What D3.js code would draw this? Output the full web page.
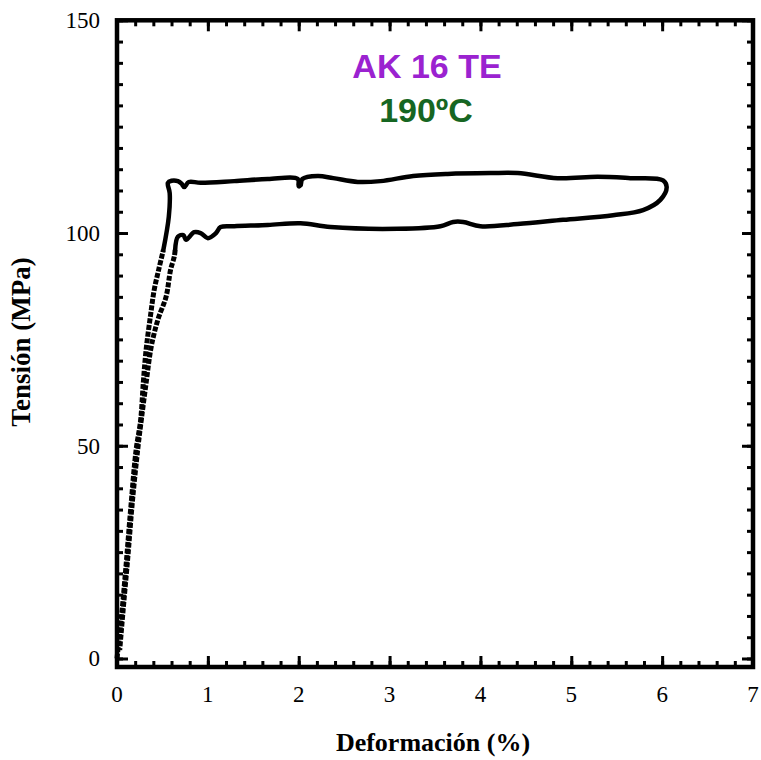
<!DOCTYPE html>
<html>
<head>
<meta charset="utf-8">
<script src="https://cdn.jsdelivr.net/npm/d3@7"></script>
<style>
  html, body { margin: 0; padding: 0; background: #fff; }
  svg { display: block; }
</style>
</head>
<body>
<svg id="chart" width="761" height="760"></svg>
<script>
// Stress–strain loop, AK 16 TE tested at 190 ºC
// Each branch: [strain %, stress MPa]
const loadingBranch = [
  [0.00, 0.0], [0.05, 10.0], [0.10, 22.0], [0.15, 35.0], [0.21, 49.0],
  [0.26, 56.0], [0.29, 65.0], [0.32, 72.5], [0.37, 80.8], [0.41, 86.7],
  [0.46, 91.5], [0.51, 96.0]
];
const upperPlateau = [
  [0.51, 96.0], [0.57, 103.8], [0.58, 109.4], [0.56, 111.8],
  [0.60, 112.3], [0.67, 112.2], [0.71, 111.6], [0.74, 110.8],
  [0.79, 112.0], [0.92, 111.8], [1.29, 112.2], [1.66, 112.7], [1.99, 112.7],
  [2.00, 111.0], [2.02, 111.2], [2.04, 112.7], [2.21, 113.4], [2.38, 112.9],
  [2.65, 112.0], [2.90, 112.2], [3.26, 113.4], [3.64, 113.9], [4.11, 114.1],
  [4.41, 114.1], [4.85, 112.9], [5.29, 113.2], [5.65, 112.9], [6.01, 112.4],
  [6.05, 110.8], [5.98, 107.8], [5.79, 105.4], [5.46, 104.2], [4.91, 103.1],
  [4.41, 102.1], [4.00, 101.6], [3.81, 102.6], [3.70, 102.6], [3.56, 101.6],
  [3.09, 101.0], [2.35, 101.4], [2.02, 102.3], [1.66, 101.9], [1.29, 101.6],
  [1.14, 101.4], [1.09, 100.0], [1.00, 98.8], [0.92, 100.0], [0.85, 100.2],
  [0.76, 98.4], [0.73, 99.5], [0.67, 99.1], [0.64, 96.0]
];
const unloadingBranch = [
  [0.64, 96.0], [0.63, 94.4], [0.59, 91.4], [0.54, 85.0], [0.46, 80.3],
  [0.41, 76.5], [0.37, 72.5], [0.32, 64.7], [0.27, 56.5], [0.23, 49.5],
  [0.17, 37.0], [0.12, 24.0], [0.07, 12.0], [0.03, 2.0]
];

const xMajorTicks = [0, 1, 2, 3, 4, 5, 6, 7];
const yMajorTicks = [0, 50, 100, 150];
const titleText = "AK 16 TE";
const subtitleText = "190ºC";
const xTitle = "Deformación (%)";
const yTitle = "Tensión (MPa)";

const svg = d3.select("#chart");
const x = d3.scaleLinear().domain([0, 7]).range([117, 753]);
const y = d3.scaleLinear().domain([-2, 150]).range([667, 20.3]);

const xMinor = d3.range(0, 7.0001, 0.2).map(v => +v.toFixed(1));
const yMinor = d3.range(0, 150.001, 5);

const serif = "'Liberation Serif', 'Times New Roman', serif";

// Ticks drawn inward on all four sides
function styleAxis(g) {
  g.select(".domain").remove();
  g.selectAll(".tick line").attr("stroke", "#000").attr("stroke-width", 3);
  g.selectAll(".tick text").remove();
}
const axes = svg.append("g");
axes.append("g").attr("transform", `translate(0,${y.range()[0]})`)
  .call(d3.axisBottom(x).tickValues(xMinor).tickSize(-6)).call(styleAxis);
axes.append("g").attr("transform", `translate(0,${y.range()[0]})`)
  .call(d3.axisBottom(x).tickValues(xMajorTicks).tickSize(-11)).call(styleAxis);
axes.append("g").attr("transform", `translate(0,${y.range()[1]})`)
  .call(d3.axisTop(x).tickValues(xMinor).tickSize(-6)).call(styleAxis);
axes.append("g").attr("transform", `translate(0,${y.range()[1]})`)
  .call(d3.axisTop(x).tickValues(xMajorTicks).tickSize(-11)).call(styleAxis);
axes.append("g").attr("transform", `translate(${x.range()[0]},0)`)
  .call(d3.axisLeft(y).tickValues(yMinor).tickSize(-6)).call(styleAxis);
axes.append("g").attr("transform", `translate(${x.range()[0]},0)`)
  .call(d3.axisLeft(y).tickValues(yMajorTicks).tickSize(-11)).call(styleAxis);
axes.append("g").attr("transform", `translate(${x.range()[1]},0)`)
  .call(d3.axisRight(y).tickValues(yMinor).tickSize(-6)).call(styleAxis);
axes.append("g").attr("transform", `translate(${x.range()[1]},0)`)
  .call(d3.axisRight(y).tickValues(yMajorTicks).tickSize(-11)).call(styleAxis);

// Frame
svg.append("rect")
  .attr("x", x.range()[0]).attr("y", y.range()[1])
  .attr("width", x.range()[1] - x.range()[0])
  .attr("height", y.range()[0] - y.range()[1])
  .attr("fill", "none").attr("stroke", "#000").attr("stroke-width", 4.5);

// Tick labels
svg.append("g").selectAll("text").data(xMajorTicks).join("text")
  .attr("x", d => x(d)).attr("y", 702)
  .attr("text-anchor", "middle")
  .attr("font-family", serif).attr("font-size", 23)
  .text(d => d);
svg.append("g").selectAll("text").data(yMajorTicks).join("text")
  .attr("x", 100).attr("y", d => y(d) + 8)
  .attr("text-anchor", "end")
  .attr("font-family", serif).attr("font-size", 23)
  .text(d => d);

// Axis titles
svg.append("text")
  .attr("x", 433).attr("y", 751)
  .attr("text-anchor", "middle")
  .attr("font-family", serif).attr("font-size", 26).attr("font-weight", "bold")
  .text(xTitle);
svg.append("text")
  .attr("transform", "translate(30,342) rotate(-90)")
  .attr("text-anchor", "middle")
  .attr("font-family", serif).attr("font-size", 27).attr("font-weight", "bold")
  .text(yTitle);

// Curve: steep branches show the individual samples, the plateau loop is continuous
const line = d3.line().x(d => x(d[0])).y(d => y(d[1])).curve(d3.curveCatmullRom.alpha(0.5));
const curves = svg.append("g").attr("fill", "none").attr("stroke", "#000");
curves.append("path").datum(loadingBranch).attr("d", line)
  .attr("stroke-width", 5).attr("stroke-dasharray", "5 1.6");
curves.append("path").datum(unloadingBranch).attr("d", line)
  .attr("stroke-width", 5).attr("stroke-dasharray", "5 1.6");
curves.append("path").datum(upperPlateau).attr("d", line)
  .attr("stroke-width", 4.5).attr("stroke-linejoin", "round").attr("stroke-linecap", "round");

// Titles
const sans = "'Liberation Sans', Arial, sans-serif";
svg.append("text")
  .attr("x", 427).attr("y", 78).attr("text-anchor", "middle")
  .attr("font-family", sans).attr("font-size", 34).attr("font-weight", "bold")
  .attr("fill", "#9b22d0").text(titleText);
svg.append("text")
  .attr("x", 426).attr("y", 122).attr("text-anchor", "middle")
  .attr("font-family", sans).attr("font-size", 34).attr("font-weight", "bold")
  .attr("fill", "#166622").text(subtitleText);
</script>
</body>
</html>
